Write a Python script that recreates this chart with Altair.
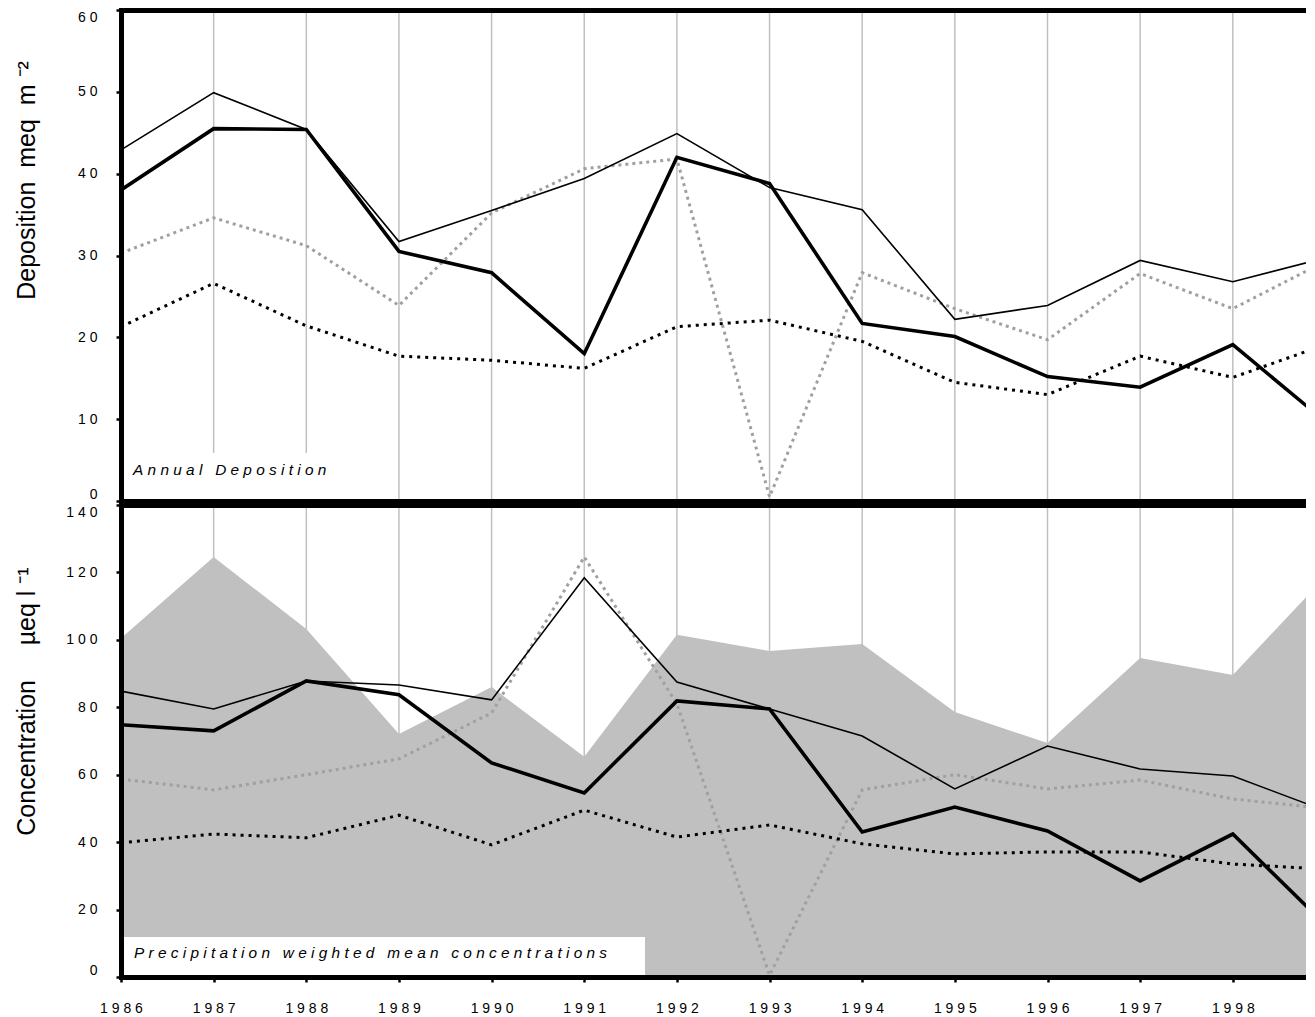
import altair as alt
import pandas as pd

NB = "\u00a0"

years = list(range(1986, 2000))

# Annual deposition (meq m-2)
dep_thin = [42.9, 49.9, 45.4, 31.7, 35.5, 39.4, 44.9, 38.3, 35.6, 22.2, 23.9, 29.4, 26.8, 29.7]
dep_thick = [38.0, 45.5, 45.4, 30.5, 27.9, 18.0, 42.0, 38.8, 21.7, 20.1, 15.2, 13.9, 19.1, 9.7]
dep_gray = [30.3, 34.6, 31.2, 23.9, 35.2, 40.6, 41.8, 0.5, 27.9, 23.5, 19.7, 27.8, 23.5, 29.3]
dep_dot = [21.3, 26.6, 21.4, 17.7, 17.2, 16.2, 21.3, 22.1, 19.5, 14.5, 13.0, 17.7, 15.1, 19.1]

# Precipitation weighted mean concentrations (ueq l-1)
conc_area = [100.5, 124.6, 103.2, 72.1, 86.0, 65.3, 101.5, 96.7, 98.8, 78.6, 69.4, 94.6, 89.6, 118.8]
conc_thin = [84.8, 79.5, 87.8, 86.6, 82.2, 118.4, 87.5, 79.5, 71.5, 55.8, 68.5, 61.7, 59.6, 49.3]
conc_thick = [74.8, 73.0, 87.8, 83.7, 63.5, 54.6, 81.9, 79.5, 43.0, 50.4, 43.3, 28.5, 42.4, 15.5]
conc_gray = [58.7, 55.5, 60.0, 64.7, 78.3, 124.6, 81.0, 0.5, 55.5, 60.0, 55.8, 58.4, 52.8, 50.0]
conc_dot = [39.8, 42.4, 41.3, 48.0, 39.2, 49.5, 41.5, 45.1, 39.5, 36.5, 37.1, 37.1, 33.5, 32.0]

x_ticks = list(range(1986, 1999))
dep_ticks = [0, 10, 20, 30, 40, 50, 60]
conc_ticks = [0, 20, 40, 60, 80, 100, 120, 140]

top_label = "Annual Deposition"
bottom_label = "Precipitation weighted mean concentrations"
top_title = "Deposition" + NB * 2 + "meq" + NB * 2 + "m" + NB + "\u207b\u00b2"
bottom_title = "Concentration" + NB * 5 + "\u00b5eq" + NB + "l" + NB + "\u207b\u00b9"


def spaced(s):
    return (NB * 3).join(NB.join(w) for w in s.split(" "))


W = 1185
H_TOP = 491
H_BOT = 472
X_MAX = 1998.79

df_dep = pd.DataFrame({"year": years, "thin": dep_thin, "thick": dep_thick,
                       "gray": dep_gray, "dot": dep_dot})
df_conc = pd.DataFrame({"year": years, "area": conc_area, "thin": conc_thin,
                        "thick": conc_thick, "gray": conc_gray, "dot": conc_dot})
df_grid = pd.DataFrame({"year": years})

xscale = alt.Scale(domain=[1986, X_MAX], nice=False, zero=False)
SPACE_EXPR = "join(split(datum.label, ''), '" + NB + "')"

top_border = alt.Axis(orient="top", domain=True, domainColor="black", domainWidth=5,
                      domainCap="square", labels=False, ticks=False, grid=False,
                      title=None, zindex=2)
bottom_border = alt.Axis(orient="bottom", domain=True, domainColor="black", domainWidth=5,
                         domainCap="square", labels=False, ticks=False, grid=False,
                         title=None, zindex=2)
bottom_axis = alt.Axis(orient="bottom", domain=True, domainColor="black", domainWidth=5,
                       domainCap="square", values=x_ticks, format="d",
                       labelExpr=SPACE_EXPR, labelFontSize=14, labelColor="black",
                       labelPadding=19, labelFlush=False, labelOverlap=False,
                       ticks=True, tickSize=5, tickWidth=2.5,
                       tickColor="black", grid=False, title=None, zindex=2)


def y_axis(values, title, title_y):
    return alt.Axis(values=values, format="d", labelExpr=SPACE_EXPR, labelFontSize=14,
                    labelColor="black", labelPadding=19, labelFlush=True,
                    domain=True, domainColor="black", domainWidth=5, domainCap="square",
                    ticks=True, tickSize=5, tickWidth=2.5, tickColor="black",
                    grid=False, title=title, titleFontSize=25, titleFontWeight="normal",
                    titleColor="black", titleX=-95, titleY=title_y, titleAngle=270,
                    titleAlign="center", titleBaseline="middle", zindex=2)


def panel(df, fields, yscale, yaxis, xaxis_bottom, height, label, box, area_field=None):
    layers = []
    layers.append(
        alt.Chart(df_grid).mark_rule(color="#c0c0c0", strokeWidth=1.5, clip=True)
        .encode(x=alt.X("year:Q", scale=xscale, axis=top_border))
    )

    def yenc(field):
        return alt.Y(f"{field}:Q", scale=yscale, axis=yaxis)

    if area_field:
        layers.append(
            alt.Chart(df).mark_area(color="#c0c0c0", opacity=1, clip=True)
            .encode(x=alt.X("year:Q", scale=xscale, axis=None), y=yenc(area_field))
        )
    styles = {
        "gray": dict(color="#a0a0a0", strokeWidth=3, strokeDash=[3, 4]),
        "dot": dict(color="black", strokeWidth=3, strokeDash=[3, 5]),
        "thin": dict(color="black", strokeWidth=1.6),
        "thick": dict(color="black", strokeWidth=3.6),
    }
    for i, f in enumerate(fields):
        xa = xaxis_bottom if i == 0 else None
        layers.append(
            alt.Chart(df).mark_line(clip=True, **styles[f])
            .encode(x=alt.X("year:Q", scale=xscale, axis=xa), y=yenc(f))
        )
    lab_df = pd.DataFrame({"label": [spaced(label)]})
    bx0, bx1, by0, by1, tx, ty = box
    layers.append(
        alt.Chart(lab_df).mark_rect(color="white")
        .encode(x=alt.value(bx0), x2=alt.value(bx1), y=alt.value(by0), y2=alt.value(by1))
    )
    layers.append(
        alt.Chart(lab_df).mark_text(align="left", baseline="middle", fontSize=15.4,
                                    fontStyle="italic", color="black")
        .encode(x=alt.value(tx), y=alt.value(ty), text="label:N")
    )
    return alt.layer(*layers).resolve_axis(x="independent").properties(width=W, height=height)


top = panel(df_dep, ["gray", "dot", "thin", "thick"],
            alt.Scale(domain=[0, 60], nice=False, zero=True),
            y_axis(dep_ticks, top_title, 170), bottom_border, H_TOP,
            top_label, (2, 219, 443, H_TOP, 12, 460))

bottom = panel(df_conc, ["gray", "dot", "thin", "thick"],
               alt.Scale(domain=[0, 140], nice=False, zero=True),
               y_axis(conc_ticks, bottom_title, 196), bottom_axis, H_BOT,
               bottom_label, (2, 524, 432, H_BOT, 13, 448), area_field="area")

chart = alt.vconcat(top, bottom, spacing=4, bounds="flush").properties(
    padding={"left": 6, "top": 0, "right": 0, "bottom": 0}
).configure(font="Liberation Sans").configure_view(stroke=None)

chart.save("out.html", embed_options={"renderer": "svg", "actions": False})
